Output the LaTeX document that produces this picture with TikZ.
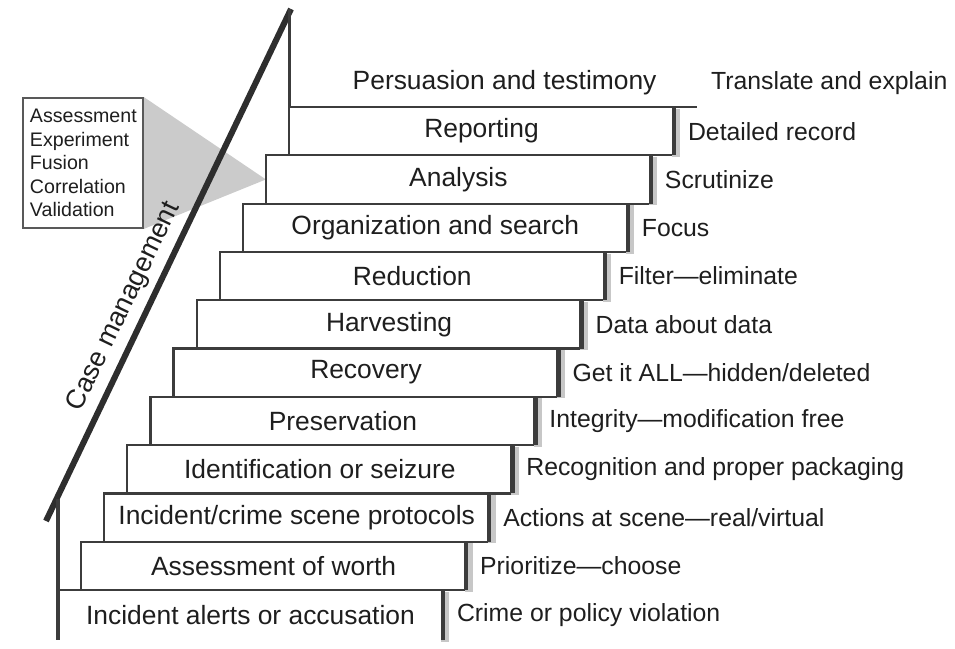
\documentclass[tikz,border=0pt]{standalone}
\usepackage{fontspec}
\setmainfont{Liberation Sans}
\usetikzlibrary{positioning,backgrounds}

\definecolor{edge}{HTML}{3C3C3C}
\definecolor{railgray}{HTML}{2E2E2E}
\definecolor{wedgegray}{HTML}{CBCBCB}
\definecolor{ink}{HTML}{1E1E1E}

\begin{document}
\begin{tikzpicture}[x=0.5pt, y=-0.5pt,
    stepbox/.style={rectangle, draw=edge, line width=1.1pt, outer sep=0pt, inner sep=0pt, minimum width=192.5pt, minimum height=24.15pt, text=ink, font=\fontsize{13.2}{15.8}\selectfont},
    openstep/.style={stepbox, draw=none},
    note/.style={right=3.5pt of #1, text=ink, font=\fontsize{12.4}{14.9}\selectfont},
    tread/.style={draw=edge, line width=1.2pt},
    riser/.style={draw=edge, line width=2.2pt, preaction={draw=black!22, line width=4pt, transform canvas={shift={(1.2pt,-0.8pt)}}}},
    rail/.style={draw=railgray, line width=3pt},
    listbox/.style={rectangle, draw=edge!85, line width=0.9pt, fill=white, align=left, text width=53pt, inner xsep=3.5pt, minimum height=65pt, text=ink, font=\fontsize{9.8}{11.75}\selectfont}]

    \useasboundingbox (0,0) rectangle (955,649);

    % Stairs, bottom to top
    \node[openstep, minimum height=25pt] (s0) at (250.5,615) {Incident alerts or accusation};
    \node[stepbox, above=0pt of s0, xshift=11.55pt] (s1) {Assessment of worth};
    \node[stepbox, above=0pt of s1, xshift=11.55pt] (s2) {Incident/crime scene protocols};
    \node[stepbox, above=0pt of s2, xshift=11.55pt] (s3) {Identification or seizure};
    \node[stepbox, above=0pt of s3, xshift=11.55pt] (s4) {Preservation};
    \node[stepbox, above=0pt of s4, xshift=11.55pt] (s5) {Recovery};
    \node[stepbox, above=0pt of s5, xshift=11.55pt] (s6) {Harvesting};
    \node[stepbox, above=0pt of s6, xshift=11.55pt] (s7) {Reduction};
    \node[stepbox, above=0pt of s7, xshift=11.55pt] (s8) {Organization and search};
    \node[stepbox, above=0pt of s8, xshift=11.55pt] (s9) {Analysis};
    \node[stepbox, above=0pt of s9, xshift=11.55pt] (s10) {Reporting};
    \node[openstep, above=0pt of s10, xshift=11.55pt] (s11) {Persuasion and testimony};

    % What each step means
    \node[note=s0] (n0) {Crime or policy violation};
    \node[note=s1] (n1) {Prioritize—choose};
    \node[note=s2] (n2) {Actions at scene—real/virtual};
    \node[note=s3] (n3) {Recognition and proper packaging};
    \node[note=s4] (n4) {Integrity—modification free};
    \node[note=s5] (n5) {Get it ALL—hidden/deleted};
    \node[note=s6] (n6) {Data about data};
    \node[note=s7] (n7) {Filter—eliminate};
    \node[note=s8] (n8) {Focus};
    \node[note=s9] (n9) {Scrutinize};
    \node[note=s10] (n10) {Detailed record};
    \node[note=s11] (n11) {Translate and explain};

    % Analysis tasks
    \node[listbox] (tasks) at (83,163) {Assessment\\Experiment\\Fusion\\Correlation\\Validation};
    \begin{scope}[on background layer]
        \fill[wedgegray] (tasks.north east) -- (s9.west) -- (tasks.south east) -- cycle;
    \end{scope}

    % Case management rail
    \coordinate (foot) at (46,521);
    \coordinate (peak) at (291,9);
    \coordinate (post) at (58,499);
    \draw[rail] (foot) -- (peak) node[pos=0.4, sloped, above, text=ink, font=\fontsize{13.5}{16}\selectfont] (caselabel) {Case management};
    \draw[edge, line width=1.8pt] (post) -- (s0.south west);
    \draw[edge, line width=1.5pt] (s10.north west) -- (s10.north west |- peak);

    % Bottom step and top landing
    \draw[tread] (s0.north west) -- (s0.north east);
    \draw[tread] (s10.north east) -- (s11.south east);

    % Risers
    \draw[riser] (s0.north east) -- (s0.south east);
    \draw[riser] (s1.north east) -- (s1.south east);
    \draw[riser] (s2.north east) -- (s2.south east);
    \draw[riser] (s3.north east) -- (s3.south east);
    \draw[riser] (s4.north east) -- (s4.south east);
    \draw[riser] (s5.north east) -- (s5.south east);
    \draw[riser] (s6.north east) -- (s6.south east);
    \draw[riser] (s7.north east) -- (s7.south east);
    \draw[riser] (s8.north east) -- (s8.south east);
    \draw[riser] (s9.north east) -- (s9.south east);
    \draw[riser] (s10.north east) -- (s10.south east);
\end{tikzpicture}
\end{document}
